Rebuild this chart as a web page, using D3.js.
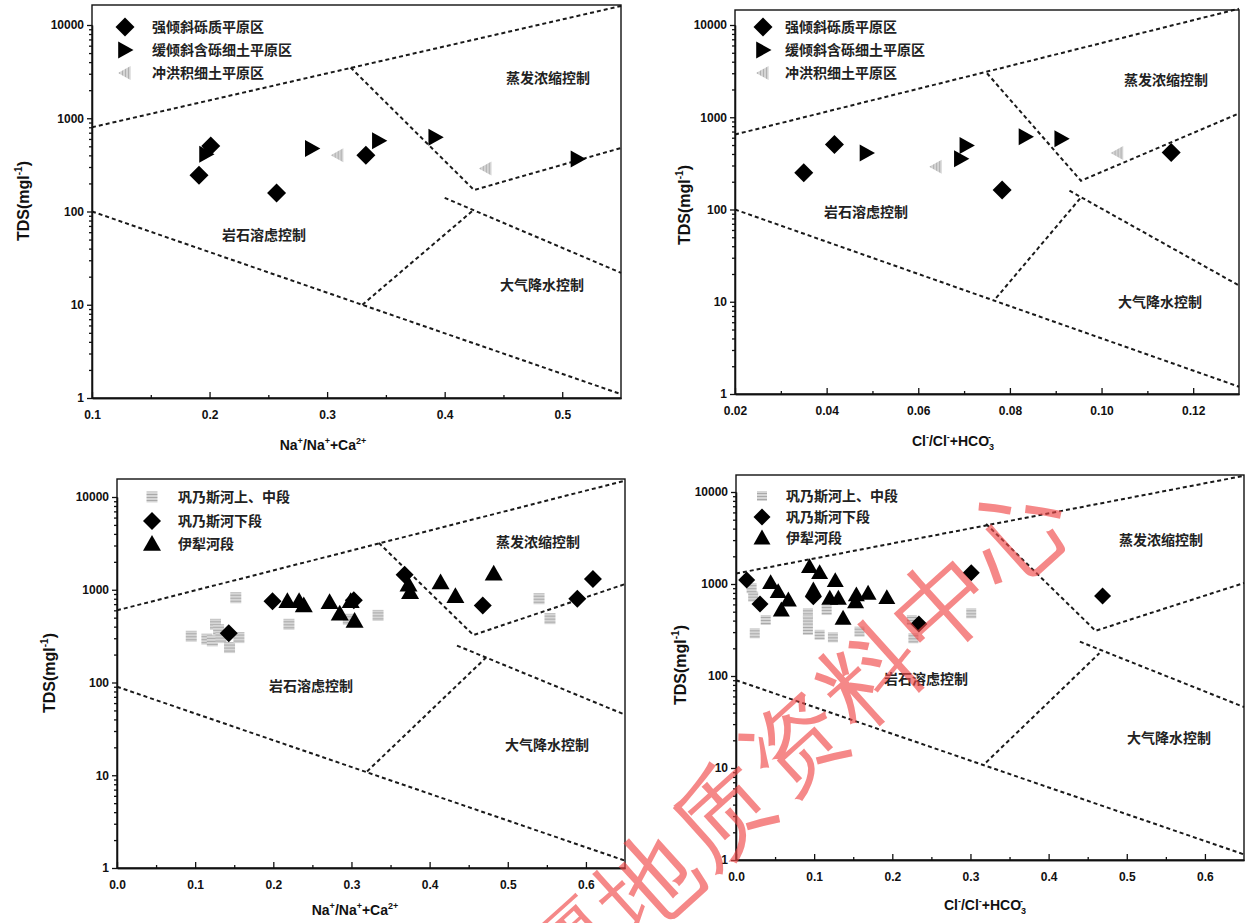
<!DOCTYPE html>
<meta charset="utf-8" />
<style>
  body { margin: 0; background: #fff; }
  svg text { font-family: "Liberation Sans", Arial, sans-serif; }
  .axis text { font-weight: bold; font-size: 12px; fill: #111; }
  .axis path, .axis line { stroke: #111; stroke-width: 1.3; }
  .cn { font-family: "Noto Sans CJK SC", sans-serif; font-weight: bold; font-size: 14px; fill: #222; }
  .bound { fill: none; stroke: #1a1a1a; stroke-width: 2; stroke-dasharray: 4,3; }
  .title { font-weight: bold; fill: #111; }
</style>
<svg width="1247" height="923"></svg>
<script src="https://cdn.jsdelivr.net/npm/d3@7"></script>
<script>
  // legend / zone names
  var zoneNames = ["强倾斜砾质平原区", "缓倾斜含砾细土平原区", "冲洪积细土平原区"];
  var riverNames = ["巩乃斯河上、中段", "巩乃斯河下段", "伊犁河段"];
  var regionNames = ["蒸发浓缩控制", "岩石溶虑控制", "大气降水控制"];

  // tick values
  var yMajor = [1, 10, 100, 1000, 10000];
  var xMajorNa1 = [0.1, 0.2, 0.3, 0.4, 0.5];
  var xMinorNa1 = [0.15, 0.25, 0.35, 0.45];
  var xMajorCl1 = [0.02, 0.04, 0.06, 0.08, 0.1, 0.12];
  var xMinorCl1 = [0.03, 0.05, 0.07, 0.09, 0.11];
  var xMajor2 = [0, 0.1, 0.2, 0.3, 0.4, 0.5, 0.6];
  var xMinor2 = [0.05, 0.15, 0.25, 0.35, 0.45, 0.55];

  // panel 1: Na+/(Na++Ca2+) vs TDS, plain zones
  var p1Gravel = [[0.191, 245], [0.201, 505], [0.257, 158], [0.333, 400]];
  var p1Loam = [[0.197, 410], [0.287, 475], [0.344, 575], [0.392, 625], [0.513, 365]];
  var p1Fine = [[0.309, 400], [0.435, 290]];
  var p1Bounds = [
    [[0.1, 800], [0.55, 16000]],
    [[0.32, 3500], [0.425, 170], [0.55, 480]],
    [[0.40, 140], [0.55, 22]],
    [[0.33, 10], [0.425, 105]],
    [[0.1, 100], [0.55, 1.1]]
  ];

  // panel 2: Cl-/(Cl-+HCO3-) vs TDS, plain zones
  var p2Gravel = [[0.035, 250], [0.0417, 505], [0.0783, 163], [0.1152, 415]];
  var p2Loam = [[0.0487, 410], [0.0705, 495], [0.0693, 355], [0.0834, 615], [0.0912, 585]];
  var p2Fine = [[0.0639, 290], [0.1035, 410]];
  var p2Bounds = [
    [[0.02, 650], [0.13, 15000]],
    [[0.075, 3000], [0.0955, 205], [0.13, 1100]],
    [[0.093, 160], [0.13, 15]],
    [[0.077, 11], [0.0955, 135]],
    [[0.02, 100], [0.13, 1.2]]
  ];

  // panel 3: Na+/(Na++Ca2+) vs TDS, rivers
  var p3Upper = [[0.095, 315], [0.115, 293], [0.122, 281], [0.126, 424], [0.13, 370], [0.133, 305],
    [0.144, 238], [0.156, 305], [0.152, 820], [0.22, 424], [0.296, 480], [0.334, 529], [0.54, 800], [0.554, 488]];
  var p3Lower = [[0.143, 340], [0.199, 752], [0.303, 771], [0.368, 1450], [0.468, 675], [0.589, 798], [0.609, 1306]];
  var p3Ili = [[0.218, 752], [0.233, 752], [0.239, 676], [0.272, 734], [0.285, 552], [0.299, 752],
    [0.304, 460], [0.373, 1135], [0.375, 940], [0.414, 1200], [0.433, 850], [0.482, 1490]];
  var p3Bounds = [
    [[0, 600], [0.65, 15000]],
    [[0.335, 3200], [0.456, 325], [0.65, 1150]],
    [[0.435, 250], [0.65, 45]],
    [[0.32, 11], [0.472, 185]],
    [[0, 90], [0.65, 1.2]]
  ];

  // panel 4: Cl-/(Cl-+HCO3-) vs TDS, rivers
  var p4Upper = [[0.022, 728], [0.02, 900], [0.024, 291], [0.038, 406], [0.092, 480], [0.092, 400], [0.092, 316],
    [0.107, 280], [0.116, 521], [0.124, 263], [0.158, 303], [0.225, 406], [0.227, 257], [0.301, 480]];
  var p4Lower = [[0.0137, 1105], [0.0307, 606], [0.0989, 728], [0.234, 367], [0.301, 1326], [0.469, 740]];
  var p4Ili = [[0.0443, 1033], [0.054, 825], [0.058, 521], [0.067, 670], [0.094, 1543], [0.099, 860],
    [0.107, 1327], [0.120, 698], [0.127, 1086], [0.131, 698], [0.137, 424], [0.153, 640], [0.154, 760],
    [0.169, 792], [0.193, 710]];
  var p4Bounds = [
    [[0, 1300], [0.65, 15000]],
    [[0.32, 4500], [0.46, 310], [0.65, 1025]],
    [[0.44, 236], [0.65, 46]],
    [[0.32, 11.5], [0.465, 177]],
    [[0, 90], [0.65, 1.15]]
  ];

  var xTitleNa = [["Na", ""], ["+", "sup"], ["/Na", ""], ["+", "sup"], ["+Ca", ""], ["2+", "sup"]];
  var xTitleCl = [["Cl", ""], ["-", "sup"], ["/Cl", ""], ["-", "sup"], ["+HCO", ""], ["3", "sub"], ["-", "supAfterSub"]];

  var svg = d3.select("svg");
  var defs = svg.append("defs");
  var pH = defs.append("pattern").attr("id", "hatchH").attr("patternUnits", "userSpaceOnUse")
    .attr("width", 4).attr("height", 3);
  pH.append("rect").attr("width", 4).attr("height", 3).attr("fill", "#d6d6d6");
  pH.append("rect").attr("width", 4).attr("height", 1).attr("fill", "#a9a9a9");
  var pV = defs.append("pattern").attr("id", "hatchV").attr("patternUnits", "userSpaceOnUse")
    .attr("width", 3).attr("height", 4);
  pV.append("rect").attr("width", 3).attr("height", 4).attr("fill", "#d4d4d4");
  pV.append("rect").attr("width", 1).attr("height", 4).attr("fill", "#b0b0b0");

  var shapes = {
    diamond: function(s) { return "M0," + -s + "L" + s + ",0L0," + s + "L" + -s + ",0Z"; },
    right: function(s) { return "M" + -0.8 * s + "," + -s + "L" + s + ",0L" + -0.8 * s + "," + s + "Z"; },
    left: function(s) { return "M" + 0.8 * s + "," + -s + "L" + -s + ",0L" + 0.8 * s + "," + s + "Z"; },
    up: function(s) { return "M0," + -s + "L" + s + "," + 0.75 * s + "L" + -s + "," + 0.75 * s + "Z"; },
    square: function(s) { return "M" + -s + "," + -s + "H" + s + "V" + s + "H" + -s + "Z"; }
  };

  var panels = [
    {
      left: 92, right: 621, top: 5, bottom: 398, y4: 25, xDomain: [0.1, 0.55],
      xMajor: xMajorNa1, xMinor: xMinorNa1, fmt: ".1f", xTitle: xTitleNa,
      xTitlePos: [323, 450], yTitlePos: [29, 201], bounds: p1Bounds,
      series: [
        { data: p1Fine, shape: "left", size: 7, fill: "url(#hatchV)", name: zoneNames[2] },
        { data: p1Gravel, shape: "diamond", size: 9.5, fill: "#000", name: zoneNames[0] },
        { data: p1Loam, shape: "right", size: 8.5, fill: "#000", name: zoneNames[1] }
      ],
      legend: [1, 2, 0], legX: 125, legY: [27, 50, 73], legTextX: 152,
      regions: [[548, 83], [264, 240], [542, 290]]
    },
    {
      left: 735, right: 1239, top: 10, bottom: 394, y4: 25, xDomain: [0.02, 0.13],
      xMajor: xMajorCl1, xMinor: xMinorCl1, fmt: ".2f", xTitle: xTitleCl,
      xTitlePos: [953, 446], yTitlePos: [690, 205], bounds: p2Bounds,
      series: [
        { data: p2Fine, shape: "left", size: 7, fill: "url(#hatchV)", name: zoneNames[2] },
        { data: p2Gravel, shape: "diamond", size: 9.5, fill: "#000", name: zoneNames[0] },
        { data: p2Loam, shape: "right", size: 8.5, fill: "#000", name: zoneNames[1] }
      ],
      legend: [1, 2, 0], legX: 763, legY: [27, 50, 73], legTextX: 785,
      regions: [[1166, 85], [866, 217], [1160, 307]]
    },
    {
      left: 117, right: 625, top: 479, bottom: 868, y4: 497, xDomain: [0, 0.65],
      xMajor: xMajor2, xMinor: xMinor2, fmt: ".1f", xTitle: xTitleNa,
      xTitlePos: [355, 915], yTitlePos: [55, 673], bounds: p3Bounds,
      series: [
        { data: p3Upper, shape: "square", size: 5.5, fill: "url(#hatchH)", name: riverNames[0] },
        { data: p3Lower, shape: "diamond", size: 9, fill: "#000", name: riverNames[1] },
        { data: p3Ili, shape: "up", size: 9, fill: "#000", name: riverNames[2] }
      ],
      legend: [0, 1, 2], legX: 152, legY: [497, 521, 544], legTextX: 178,
      regions: [[538, 547], [311, 691], [547, 750]]
    },
    {
      left: 736, right: 1244, top: 475, bottom: 860, y4: 492, xDomain: [0, 0.65],
      xMajor: xMajor2, xMinor: xMinor2, fmt: ".1f", xTitle: xTitleCl,
      xTitlePos: [985, 910], yTitlePos: [686, 665], bounds: p4Bounds,
      series: [
        { data: p4Upper, shape: "square", size: 5, fill: "url(#hatchH)", name: riverNames[0] },
        { data: p4Lower, shape: "diamond", size: 8.5, fill: "#000", name: riverNames[1] },
        { data: p4Ili, shape: "up", size: 8.5, fill: "#000", name: riverNames[2] }
      ],
      legend: [0, 1, 2], legX: 762, legY: [496, 517, 538], legTextX: 786,
      regions: [[1161, 545], [926, 684], [1169, 743]]
    }
  ];

  panels.forEach(drawPanel);

  function drawPanel(p) {
    var x = d3.scaleLinear().domain(p.xDomain).range([p.left, p.right]);
    var y = d3.scaleLog().domain([1, 10000]).range([p.bottom, p.y4]);
    var g = svg.append("g");

    var line = d3.line()
      .x(function(d) { return x(d[0]); })
      .y(function(d) { return y(d[1]); });
    g.selectAll(".bound").data(p.bounds).enter().append("path")
      .attr("class", "bound").attr("d", line);

    // region labels
    regionNames.forEach(function(name, i) {
      g.append("text").attr("class", "cn").attr("text-anchor", "middle")
        .attr("x", p.regions[i][0]).attr("y", p.regions[i][1]).text(name);
    });

    // points
    p.series.forEach(function(s) {
      g.append("g").selectAll("path").data(s.data).enter().append("path")
        .attr("d", shapes[s.shape](s.size))
        .attr("fill", s.fill)
        .attr("transform", function(d) { return "translate(" + x(d[0]) + "," + y(d[1]) + ")"; });
    });

    // frame
    g.append("rect")
      .attr("x", p.left).attr("y", p.top)
      .attr("width", p.right - p.left).attr("height", p.bottom - p.top)
      .attr("fill", "none").attr("stroke", "#111").attr("stroke-width", 1.4);

    // x axis (ticks point inward)
    g.append("g").attr("class", "axis")
      .attr("transform", "translate(0," + p.bottom + ")")
      .call(d3.axisBottom(x).tickValues(p.xMajor).tickSize(-6).tickSizeOuter(0)
        .tickPadding(12).tickFormat(d3.format(p.fmt)));
    g.append("g").attr("class", "axis")
      .attr("transform", "translate(0," + p.bottom + ")")
      .call(d3.axisBottom(x).tickValues(p.xMinor).tickSize(-3).tickSizeOuter(0).tickFormat(""));

    // y axis (log, ticks outward)
    var yMinor = [];
    [1, 10, 100, 1000].forEach(function(dec) {
      for (var m = 2; m < 10; m++) yMinor.push(dec * m);
    });
    g.append("g").attr("class", "axis")
      .attr("transform", "translate(" + p.left + ",0)")
      .call(d3.axisLeft(y).tickValues(yMajor).tickSize(5).tickSizeOuter(0)
        .tickPadding(3).tickFormat(d3.format("d")));
    g.append("g").attr("class", "axis")
      .attr("transform", "translate(" + p.left + ",0)")
      .call(d3.axisLeft(y).tickValues(yMinor).tickSize(3).tickSizeOuter(0).tickFormat(""));
    g.selectAll(".axis .domain").attr("stroke-width", 1.4);

    // legend
    p.legend.forEach(function(si, i) {
      var s = p.series[si];
      g.append("path").attr("d", shapes[s.shape](s.size))
        .attr("fill", s.fill)
        .attr("transform", "translate(" + p.legX + "," + p.legY[i] + ")");
      g.append("text").attr("class", "cn")
        .attr("x", p.legTextX).attr("y", p.legY[i] + 5).text(s.name);
    });

    // x title
    var xt = g.append("text").attr("class", "title").attr("font-size", 14)
      .attr("text-anchor", "middle")
      .attr("x", p.xTitlePos[0]).attr("y", p.xTitlePos[1]);
    var shift = 0;
    p.xTitle.forEach(function(part) {
      var t = xt.append("tspan").text(part[0]);
      var target = 0, dx = 0;
      if (part[1] === "sup") target = -6;
      if (part[1] === "sub") target = 4;
      if (part[1] === "supAfterSub") { target = -6; dx = -6; }
      if (part[1]) t.attr("font-size", 9);
      t.attr("dy", target - shift);
      if (dx) t.attr("dx", dx);
      shift = target;
    });

    // y title
    var yt = g.append("text").attr("class", "title").attr("font-size", 16)
      .attr("text-anchor", "middle")
      .attr("transform", "translate(" + p.yTitlePos[0] + "," + p.yTitlePos[1] + ") rotate(-90)");
    yt.append("tspan").text("TDS(mgl");
    yt.append("tspan").attr("font-size", 10).attr("dy", -7).text("-1");
    yt.append("tspan").attr("dy", 7).text(")");
  }

  // red watermark across the lower right (first glyph only partly on the page)
  var wmChars = "疆地质资料中心".split("");
  svg.append("g").selectAll("text").data(wmChars).enter().append("text")
    .attr("font-family", "Noto Sans CJK SC, sans-serif")
    .attr("font-size", 98)
    .attr("fill", "#f04848")
    .attr("fill-opacity", 0.65)
    .attr("text-anchor", "middle")
    .attr("dominant-baseline", "central")
    .attr("transform", function(d, i) {
      return "translate(" + (648 + (i - 1) * 74) + "," + (884 - (i - 1) * 70) + ") rotate(-42)";
    })
    .text(function(d) { return d; });
</script>
